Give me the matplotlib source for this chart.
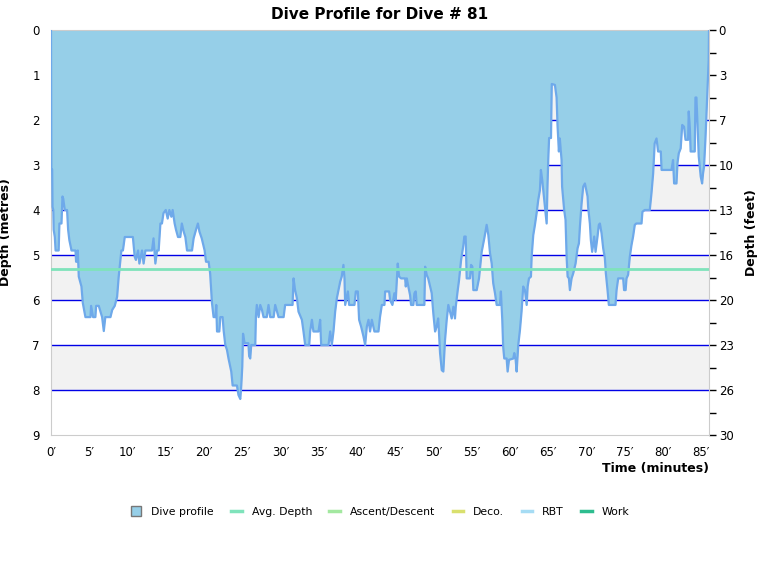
import numpy as np
import matplotlib.pyplot as plt
from matplotlib.lines import Line2D

# Perfil de la inmersión (minutos, metros)
time_min = [
    0, 0.05, 0.15, 0.2, 0.3, 0.35, 0.5, 0.6, 1.0, 1.1, 1.37, 1.5, 1.6, 1.8, 2.1, 2.24, 2.4, 2.68,
    3.2, 3.28, 3.4, 3.5, 3.63, 3.98, 4.16, 4.5, 5.16, 5.24, 5.5, 5.8, 5.9, 6.24, 6.68, 6.9, 7.1,
    7.77, 8.0, 8.33, 8.64, 8.85, 9.2, 9.4, 9.64, 10.7, 10.94, 11.1, 11.38, 11.55, 11.9, 12.1,
    12.34, 13.2, 13.4, 13.64, 13.86, 14.07, 14.3, 14.5, 14.7, 15.0, 15.25, 15.47, 15.73, 15.9,
    16.16, 16.34, 16.6, 16.9, 17.1, 17.34, 17.56, 17.78, 18.43, 18.64, 18.95, 19.2, 19.4, 19.7,
    20.08, 20.26, 20.6, 20.8, 21.04, 21.25, 21.5, 21.6, 21.7, 22.0, 22.13, 22.43, 22.56, 22.78,
    23.0, 23.2, 23.43, 23.56, 23.74, 24.3, 24.5, 24.74, 24.87, 25.0, 25.1, 25.3, 25.8, 25.9,
    26.04, 26.17, 26.7, 26.78, 26.9, 27.13, 27.35, 27.57, 27.78, 28.2, 28.43, 28.65, 29.1, 29.3,
    29.74, 30.4, 30.6, 31.57, 31.7, 31.9, 32.14, 32.35, 32.79, 33.0, 33.22, 33.75, 33.87, 34.1,
    34.3, 34.96, 35.18, 35.31, 36.27, 36.49, 36.7, 36.92, 37.14, 37.36, 37.57, 37.8, 38.0, 38.22,
    38.36, 38.45, 38.8, 38.97, 39.66, 39.84, 40.1, 40.27, 40.53, 40.84, 41.06, 41.28, 41.5, 41.7,
    41.93, 42.27, 42.8, 43.0, 43.24, 43.58, 43.67, 44.1, 44.19, 44.32, 44.62, 44.88, 45.06,
    45.32, 45.5, 45.76, 46.28, 46.37, 46.5, 46.7, 46.93, 47.06, 47.36, 47.5, 47.67, 47.8, 48.8,
    48.9, 49.1, 49.3, 49.76, 49.97, 50.2, 50.4, 50.6, 50.7, 50.85, 51.07, 51.28, 51.5, 51.72,
    51.93, 52.15, 52.37, 52.59, 52.8, 52.9, 53.16, 53.33, 53.6, 53.9, 54.02, 54.2, 54.33, 54.76,
    54.9, 55.07, 55.2, 55.64, 55.94, 56.29, 56.63, 56.94, 57.16, 57.38, 57.6, 57.8, 58.03, 58.25,
    58.68, 58.8, 58.98, 59.1, 59.24, 59.55, 59.68, 59.86, 60.42, 60.55, 60.73, 60.86, 61.07,
    61.29, 61.5, 61.72, 61.94, 62.17, 62.3, 62.47, 62.73, 62.82, 63.03, 63.25, 63.47, 63.68,
    63.9, 64.03, 64.2, 64.47, 64.65, 64.78, 64.9, 64.99, 65.1, 65.35, 65.45, 65.86, 66.08, 66.2,
    66.38, 66.5, 66.64, 66.73, 66.8, 67.07, 67.25, 67.39, 67.52, 67.69, 67.82, 68.04, 68.25,
    68.56, 68.82, 69.0, 69.13, 69.35, 69.56, 69.78, 70.0, 70.13, 70.2, 70.43, 70.56, 70.73, 71.0,
    71.17, 71.43, 71.6, 71.74, 71.96, 72.17, 72.39, 72.52, 72.74, 72.91, 73.78, 73.92, 74.13,
    74.78, 74.9, 75.1, 75.22, 75.43, 75.65, 75.87, 76.08, 76.3, 76.5, 77.18, 77.3, 77.6, 78.26,
    78.48, 78.7, 78.8, 78.9, 79.14, 79.35, 79.7, 79.8, 81.1, 81.3, 81.44, 81.75, 81.88, 82.05,
    82.3, 82.5, 82.74, 82.93, 83.27, 83.35, 83.49, 83.6, 84.14, 84.23, 84.36, 84.5, 84.66, 84.8,
    84.92, 85.1, 85.22, 85.35, 85.53, 85.66, 85.8, 85.96, 86.0,
]
depth_m = [
    0, 3.1, 3.1, 3.93, 4.0, 4.44, 4.6, 4.9, 4.9, 4.3, 4.3, 3.7, 3.75, 4.0, 4.0, 4.44, 4.67, 4.9,
    4.9, 5.15, 5.15, 4.9, 5.48, 5.7, 6.07, 6.38, 6.38, 6.13, 6.38, 6.38, 6.13, 6.13, 6.38, 6.69, 6.38,
    6.38, 6.22, 6.13, 5.93, 5.48, 4.9, 4.9, 4.6, 4.6, 5.04, 5.11, 4.9, 5.19, 4.9, 5.19,
    4.9, 4.9, 4.63, 5.19, 4.9, 4.9, 4.3, 4.3, 4.07, 4.0, 4.19, 4.0, 4.15, 4.0,
    4.3, 4.44, 4.6, 4.6, 4.3, 4.48, 4.6, 4.9, 4.9, 4.63, 4.44, 4.3, 4.48, 4.63,
    4.9, 5.15, 5.15, 5.41, 6.07, 6.38, 6.38, 6.11, 6.7, 6.7, 6.38, 6.38, 6.67, 7.0,
    7.11, 7.3, 7.48, 7.59, 7.9, 7.9, 8.11, 8.2, 7.9, 7.48, 6.75, 6.96, 6.96, 7.25,
    7.3, 7.0, 7.0, 6.37, 6.11, 6.38, 6.11, 6.22, 6.38, 6.38, 6.11, 6.38, 6.38, 6.11,
    6.38, 6.38, 6.11, 6.11, 5.52, 5.78, 5.96, 6.26, 6.44, 6.7, 7.0, 7.0, 6.7, 6.44,
    6.7, 6.7, 6.44, 7.0, 7.0, 6.7, 7.0, 6.7, 6.26, 5.96, 5.78, 5.59, 5.48, 5.22,
    5.52, 6.11, 5.81, 6.11, 6.11, 5.81, 5.81, 6.44, 6.59, 6.81, 7.0, 6.59, 6.44, 6.7,
    6.44, 6.7, 6.7, 6.38, 6.11, 6.11, 5.81, 5.81, 5.81, 6.0, 6.11, 5.85, 6.0,
    5.19, 5.48, 5.52, 5.52, 5.7, 5.52, 5.7, 5.89, 6.11, 6.11, 5.85, 5.81, 6.11, 6.11,
    5.26, 5.44, 5.52, 5.85, 6.3, 6.7, 6.59, 6.41, 6.7, 7.18, 7.56, 7.59, 6.89, 6.44,
    6.11, 6.26, 6.41, 6.15, 6.41, 6.15, 5.78, 5.56, 5.11, 4.78, 4.59, 4.59, 5.52, 5.52,
    5.22, 5.26, 5.78, 5.78, 5.52, 4.93, 4.63, 4.33, 4.56, 4.96, 5.19, 5.63, 5.85, 6.11,
    6.11, 5.81, 6.44, 7.04, 7.3, 7.3, 7.59, 7.33, 7.3, 7.18, 7.33, 7.59, 7.0,
    6.67, 6.26, 5.7, 5.78, 6.11, 5.7, 5.52, 5.48, 5.04, 4.56, 4.33, 4.07, 3.78,
    3.56, 3.11, 3.33, 3.78, 4.07, 4.3, 3.41, 2.89, 2.4, 2.4, 1.2, 1.22, 1.5, 2.11,
    2.7, 2.41, 2.7, 2.89, 3.48, 4.0, 4.22, 5.04, 5.48, 5.52, 5.78, 5.52, 5.41,
    5.19, 4.85, 4.74, 4.37, 3.85, 3.48, 3.41, 3.59, 3.7, 3.93, 4.3, 4.67, 4.93, 4.59,
    4.93, 4.59, 4.33, 4.3, 4.52, 4.85, 5.07, 5.41, 5.78, 6.11, 6.11, 5.78, 5.52,
    5.52, 5.78, 5.78, 5.52, 5.44, 5.04, 4.78, 4.59, 4.33, 4.3, 4.3, 4.04, 4.0, 4.0,
    3.63, 3.19, 2.85, 2.52, 2.41, 2.7, 2.7, 3.11, 3.11, 2.89, 3.41, 3.41, 2.96, 2.74,
    2.63, 2.11, 2.15, 2.44, 2.44, 1.81, 2.15, 2.7, 2.7, 1.5, 1.5, 2.11, 2.81, 3.04,
    3.26, 3.41, 3.19, 3.04, 2.44, 1.89, 1.26, 0.67, 0,
]
avg_depth = 5.31
max_time = 86
max_depth = 9
metre_ticks = list(range(0, 10))
feet_labels = ['0', '3', '7', '10', '13', '16', '20', '23', '26', '30']

legend_names = ['Dive profile', 'Avg. Depth', 'Ascent/Descent', 'Deco.', 'RBT', 'Work']
legend_colors = ['#96cfe8', '#7fe3bb', '#a3e8a0', '#d9e06e', '#a6dcf4', '#2ebd8f']

fill_color = '#96cfe8'
edge_color = '#6ea9ea'
spine_color = '#cccccc'

fig = plt.figure(figsize=(7.6, 5.8), dpi=100)
ax = fig.add_axes([51 / 760, 1 - 435 / 580, 658 / 760, 405 / 580])

# Bandas grises y líneas azules por metro
for k in range(1, max_depth, 2):
    ax.axhspan(k, k + 1, color='#f2f2f2', zorder=0, lw=0)
for k in range(1, max_depth):
    ax.axhline(k, color='#0000e6', lw=1.0, zorder=1)

ax.fill_between(time_min, 0, depth_m, color=fill_color, zorder=2, lw=0)
ax.plot(time_min, depth_m, color=edge_color, lw=1.6, zorder=3)
ax.axhline(avg_depth, color=legend_colors[1], lw=2, zorder=4)

ax.set_xlim(0, max_time)
ax.set_ylim(max_depth, 0)
ax.set_xticks(range(0, 90, 5))
ax.set_xticklabels([f'{m}\u2032' for m in range(0, 90, 5)], fontsize=8.5)
ax.set_yticks(metre_ticks)
ax.set_yticklabels([str(m) for m in metre_ticks], fontsize=8.5)
ax.tick_params(axis='both', length=0, pad=8)
for s in ax.spines.values():
    s.set_color(spine_color)
ax.spines['right'].set_visible(False)

ax.set_title('Dive Profile for Dive # 81', fontsize=11, fontweight='bold', pad=8)
ax.set_ylabel('Depth (metres)', fontsize=9, fontweight='bold', labelpad=15)
ax.set_xlabel('Time (minutes)', fontsize=9, fontweight='bold', loc='right', labelpad=2)

# Eje derecho en pies
ax2 = ax.twinx()
ax2.set_ylim(max_depth, 0)
ax2.set_yticks(metre_ticks)
ax2.set_yticklabels(feet_labels, fontsize=8.5)
ax2.set_yticks(np.arange(0.5, max_depth, 1.0), minor=True)
ax2.tick_params(axis='y', which='major', length=5, width=1, color='black', pad=2)
ax2.tick_params(axis='y', which='minor', length=5, width=1, color='black')
for s in ax2.spines.values():
    s.set_visible(False)
ax2.spines['right'].set_visible(True)
ax2.spines['right'].set_color(spine_color)
ax2.set_ylabel('Depth (feet)', fontsize=9, fontweight='bold', labelpad=8)

handles = [Line2D([], [], marker='s', ls='none', markersize=7, markerfacecolor=legend_colors[0],
                  markeredgecolor='#777777')]
handles += [Line2D([], [], color=c, lw=2.5) for c in legend_colors[1:]]
fig.legend(handles, legend_names, loc='center', bbox_to_anchor=(0.5, 1 - 512 / 580), ncol=6,
           frameon=False, fontsize=7.8, handlelength=1.0, columnspacing=1.6, handletextpad=0.9)

fig.savefig('out.png', dpi=100)
